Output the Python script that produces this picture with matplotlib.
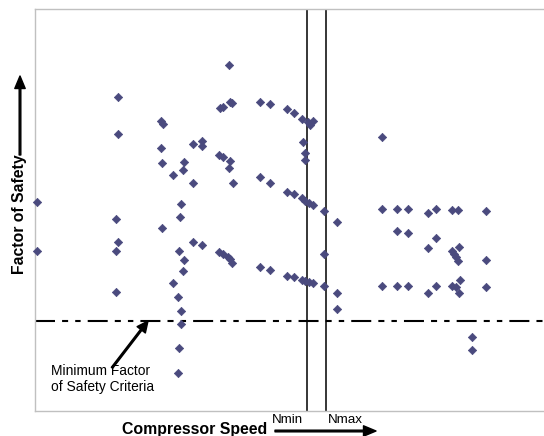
import matplotlib
matplotlib.use("Agg")
import matplotlib.pyplot as plt

plt.rcParams['font.family'] = ['Liberation Sans', 'DejaVu Sans']

# compressor speed (rpm) and factor of safety
speed = [20, 20,
         830, 830, 810, 830, 810, 810,
         1260, 1280, 1260, 1270, 1270,
         1380, 1380,
         1490, 1480, 1460, 1450, 1440, 1490, 1480, 1430, 1460, 1460, 1440, 1430,
         1580, 1580, 1580,
         1670, 1670, 1670,
         1850, 1880, 1950, 1970, 1940,
         1840, 1880, 1950, 1940, 1980,
         1840, 1880, 1930, 1950, 1970,
         2250, 2250, 2250,
         2350, 2350, 2350,
         2520, 2520, 2520,
         2590, 2590, 2590,
         2670, 2670, 2670,
         2680, 2700, 2700,
         2700, 2700,
         2730, 2780, 2750, 2740, 2780, 2740, 2780,
         2890, 2890, 2890,
         3020, 3020, 3020,
         3470, 3470, 3470,
         3620, 3620, 3620,
         3730, 3730, 3730,
         3930, 3930, 3930,
         4010, 4010, 4010,
         4170, 4170, 4170,
         4190,
         4210, 4210,
         4230, 4230,
         4240, 4240,
         4250,
         4370, 4370,
         4510, 4510, 4510]
fos = [2.32, 1.78,
       3.49, 3.08, 2.13, 1.88, 1.78, 1.32,
       3.22, 3.19, 2.92, 2.76, 2.03,
       2.62, 1.42,
       2.77, 2.68, 2.30, 2.16, 1.78, 1.68, 1.56, 1.27, 1.11, 0.97, 0.70, 0.42,
       2.97, 2.53, 1.88,
       3.00, 2.94, 1.84,
       3.37, 3.38, 3.43, 3.42, 3.84,
       2.84, 2.82, 2.78, 2.70, 2.53,
       1.77, 1.74, 1.71, 1.69, 1.64,
       3.43, 2.60, 1.60,
       3.41, 2.53, 1.57,
       3.36, 2.43, 1.50,
       3.31, 2.41, 1.49,
       3.24, 2.37, 1.46,
       2.99, 2.87, 2.79,
       2.33, 1.44,
       3.21, 3.22, 3.18, 2.31, 2.29, 1.43, 1.42,
       2.22, 1.74, 1.39,
       2.10, 1.31, 1.13,
       3.04, 2.24, 1.39,
       2.24, 2.00, 1.39,
       2.24, 1.98, 1.39,
       2.20, 1.81, 1.31,
       2.24, 1.92, 1.39,
       2.23, 1.78, 1.39,
       1.74,
       1.71, 1.38,
       2.23, 1.67,
       1.82, 1.31,
       1.46,
       0.82, 0.68,
       2.22, 1.68, 1.38]

n_min = 2720
n_max = 2910
min_fos = 1.0

W, H = 544, 436
fig = plt.figure(figsize=(W / 100, H / 100), dpi=100)
ax = fig.add_axes([35 / W, 1 - 411 / H, 509 / W, 402 / H])

ax.scatter(speed, fos, marker='D', s=18, color='#4a4a7e', edgecolors='#4a4a7e',
           linewidths=0.5, zorder=3, clip_on=False)

ax.axvline(n_min, color='black', lw=1.1)
ax.axvline(n_max, color='black', lw=1.1)
ax.axhline(min_fos, color='black', lw=1.5, linestyle=(0, (9.6, 3.4, 2.9, 3.4, 2.6, 3.4)))

ax.set_xlim(0, 5090)
ax.set_ylim(0, 4.467)
ax.set_xticks([])
ax.set_yticks([])
ax.spines['right'].set_visible(False)
for side in ['left', 'top', 'bottom']:
    ax.spines[side].set_color('#c0c0c0')
    ax.spines[side].set_linewidth(1.0)

# annotation for the criteria line
ax.annotate('', xy=(1130, min_fos), xytext=(770, 0.48),
            arrowprops=dict(facecolor='black', edgecolor='black', width=1.2,
                            headwidth=7.5, headlength=8, shrink=0))
fig.text(51 / W, 1 - 364 / H, 'Minimum Factor\nof Safety Criteria', fontsize=9.9,
         ha='left', va='top', linespacing=1.15)

# axis labels with arrows
fig.text(195 / W, 1 - 434 / H, 'Compressor Speed', fontsize=11.4, fontweight='bold',
         ha='center', va='baseline')
fig.text(20 / W, 1 - 214 / H, 'Factor of Safety', fontsize=11.3, fontweight='bold',
         rotation=90, ha='center', va='center')
fig.add_artist(plt.Annotation('', xy=(376 / W, 1 - 431 / H), xytext=(275 / W, 1 - 431 / H),
                              xycoords='figure fraction', textcoords='figure fraction',
                              arrowprops=dict(facecolor='black', edgecolor='black', width=1.2,
                                              headwidth=7.5, headlength=9, shrink=0)))
fig.add_artist(plt.Annotation('', xy=(20 / W, 1 - 76 / H), xytext=(20 / W, 1 - 155 / H),
                              xycoords='figure fraction', textcoords='figure fraction',
                              arrowprops=dict(facecolor='black', edgecolor='black', width=1.2,
                                              headwidth=7.5, headlength=9, shrink=0)))

fig.text(287.5 / W, 1 - 423 / H, 'Nmin', fontsize=9.6, ha='center', va='baseline')
fig.text(345.5 / W, 1 - 423 / H, 'Nmax', fontsize=9.6, ha='center', va='baseline')

fig.savefig('out.png', dpi=100)
